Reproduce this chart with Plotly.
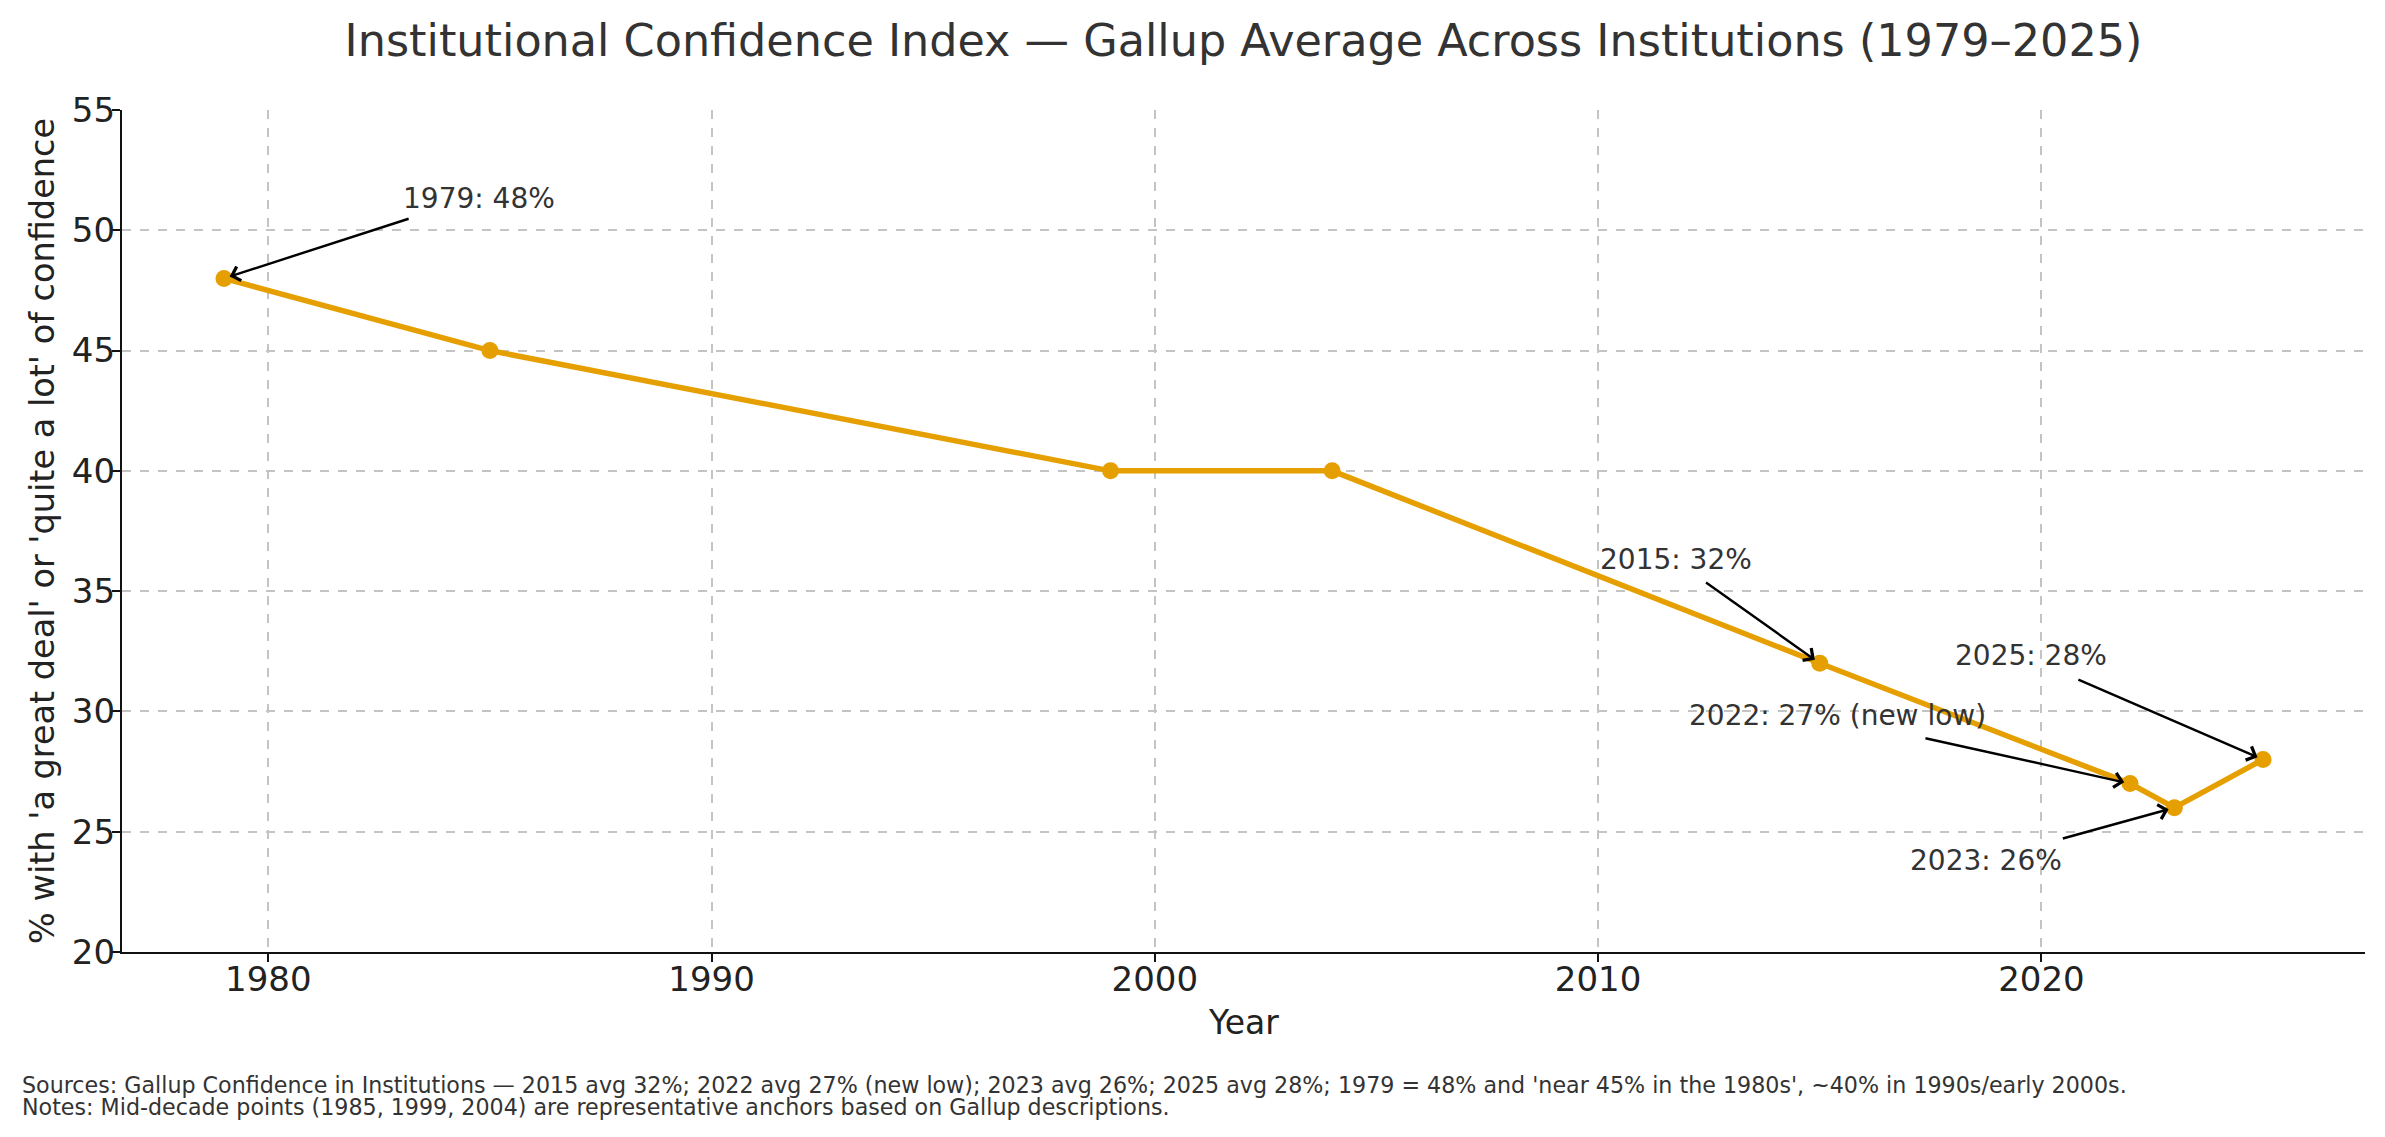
import plotly.graph_objects as go

years = [1979, 1985, 1999, 2004, 2015, 2022, 2023, 2025]
confidence = [48, 45, 40, 40, 32, 27, 26, 28]

x_ticks = [1980, 1990, 2000, 2010, 2020]
y_ticks = [20, 25, 30, 35, 40, 45, 50, 55]

# annotation labels
ann_labels = ["1979: 48%", "2015: 32%", "2025: 28%", "2022: 27% (new low)", "2023: 26%"]
ann_point_x = [1979, 2015, 2025, 2022, 2023]
ann_point_y = [48, 32, 28, 27, 26]
ann_text_x = [1983, 2010, 2018, 2012, 2017]
ann_text_y = [51, 36, 32, 29.5, 23.5]
ann_tail_x = [1983.2, 2012.4, 2020.8, 2017.35, 2020.45]
ann_tail_y = [50.5, 35.4, 31.35, 28.9, 24.7]

title_text = "Institutional Confidence Index \u2014 Gallup Average Across Institutions (1979\u20132025)"
y_title = "% with 'a great deal' or 'quite a lot' of confidence"
x_title = "Year"
foot1 = ("Sources: Gallup Confidence in Institutions \u2014 2015 avg 32%; 2022 avg 27% (new low); "
         "2023 avg 26%; 2025 avg 28%; 1979 = 48% and 'near 45% in the 1980s', ~40% in 1990s/early 2000s.")
foot2 = "Notes: Mid-decade points (1985, 1999, 2004) are representative anchors based on Gallup descriptions."

FONT = "DejaVu Sans"
W, H = 2385, 1137
ml, mr, mt, mb = 122, 20, 110, 185
ph = H - mt - mb
pw = W - ml - mr

fig = go.Figure()
fig.add_trace(go.Scatter(
    x=years, y=confidence, mode="lines+markers",
    line=dict(color="#E69F00", width=5.5),
    marker=dict(color="#E69F00", size=17),
    showlegend=False, hoverinfo="x+y",
))

annotations = []
for lab, px_, py_, tx, ty, ax_, ay_ in zip(ann_labels, ann_point_x, ann_point_y,
                                          ann_text_x, ann_text_y, ann_tail_x, ann_tail_y):
    annotations.append(dict(
        x=px_, y=py_, ax=ax_, ay=ay_, xref="x", yref="y", axref="x", ayref="y",
        text="", showarrow=True, arrowhead=4, arrowsize=1.2, arrowwidth=2.4,
        arrowcolor="#000000", standoff=6, startstandoff=0,
    ))
    annotations.append(dict(
        x=tx, y=ty, xref="x", yref="y", text=lab, showarrow=False,
        xanchor="left", yanchor="bottom", yshift=-11,
        font=dict(family=FONT, size=28, color="#333333"),
    ))

annotations.append(dict(
    x=(42 - ml) / pw, y=0.5, xref="paper", yref="paper", text=y_title, textangle=-90,
    showarrow=False, xanchor="center", yanchor="middle",
    font=dict(family=FONT, size=33.5, color="#222222"),
))
annotations.append(dict(
    x=0.5, y=(952 - 1022) / ph, xref="paper", yref="paper", text=x_title,
    showarrow=False, xanchor="center", yanchor="middle",
    font=dict(family=FONT, size=33, color="#222222"),
))
annotations.append(dict(
    x=(20 - ml) / pw, y=(952 - 1085) / ph, xref="paper", yref="paper", text=foot1,
    showarrow=False, xanchor="left", yanchor="middle", align="left",
    font=dict(family=FONT, size=22.2, color="#333333"),
))
annotations.append(dict(
    x=(20 - ml) / pw, y=(952 - 1107) / ph, xref="paper", yref="paper", text=foot2,
    showarrow=False, xanchor="left", yanchor="middle", align="left",
    font=dict(family=FONT, size=22.2, color="#333333"),
))

fig.update_layout(
    width=W, height=H,
    margin=dict(l=ml, r=mr, t=mt, b=mb),
    paper_bgcolor="white", plot_bgcolor="white",
    title=dict(text=title_text, x=0.5, xref="paper", y=1 - 40 / H, yref="container",
               xanchor="center", yanchor="middle",
               font=dict(family=FONT, size=44.5, color="#333333")),
    font=dict(family=FONT),
    annotations=annotations,
)
axis_common = dict(
    showgrid=True, gridcolor="#c4c4c4", gridwidth=1.6, griddash="dash",
    showline=True, linecolor="#111111", linewidth=2.2, mirror=False,
    ticks="outside", ticklen=8, tickwidth=2, tickcolor="#111111",
    tickfont=dict(family=FONT, size=34, color="#222222"), zeroline=False,
)
fig.update_xaxes(range=[1976.7, 2027.3], tickvals=x_ticks,
                 ticktext=[str(v) for v in x_ticks], ticklabelstandoff=-12, **axis_common)
fig.update_yaxes(range=[20, 55], tickvals=y_ticks,
                 ticktext=[str(v) for v in y_ticks], ticklabelstandoff=-10, **axis_common)

fig.write_html("out.html", config={"displayModeBar": False},
               post_script="document.body.style.margin='0';")
